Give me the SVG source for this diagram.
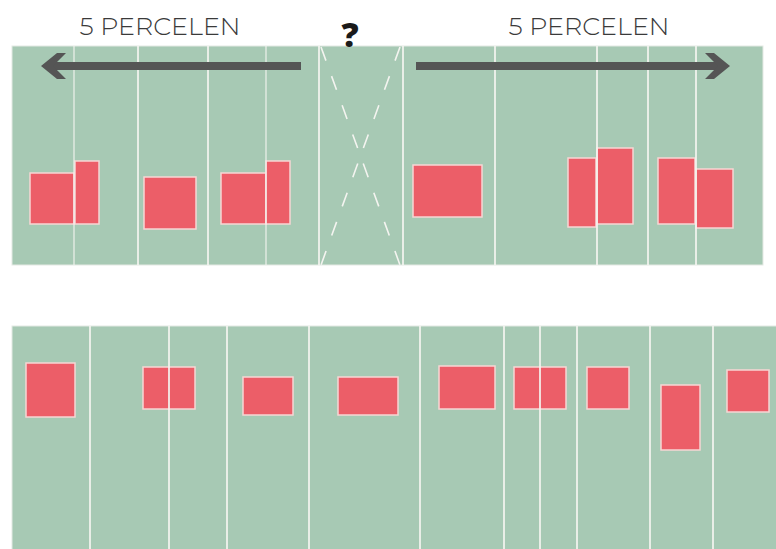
<svg xmlns="http://www.w3.org/2000/svg" width="776" height="549" viewBox="0 0 776 549">
<style>
.panel{fill:#a7c9b4;stroke:#e4e9e4;stroke-width:1}
.plot{fill:#ec5e68;stroke:#f7d6d4;stroke-width:1.5}
.div{stroke:#f4f4f0;stroke-width:2;stroke-opacity:0.85}
.thin{stroke-width:1.3}
.dash{stroke:#f4f4f0;stroke-width:1.6;stroke-dasharray:14.5 16.5;fill:none}
.arrow{fill:#555555}
.lbl{font-family:"Montserrat","Lato","Open Sans",sans-serif;font-weight:300;font-size:25px;fill:#3a3a3a;text-anchor:middle}
.q{font-family:"Open Sans","Liberation Sans",sans-serif;font-weight:800;font-size:34px;fill:#1a1a1a;text-anchor:middle}
</style>
<rect width="776" height="549" fill="#ffffff"/>
<g id="top-panel">
<rect class="panel" x="12" y="46" width="751" height="219"/>
</g>
<g id="bottom-panel">
<rect class="panel" x="12" y="326" width="770" height="230"/>
</g>
<g id="top-plots">
<rect class="plot" x="30" y="173" width="44" height="51"/>
<rect class="plot" x="75" y="161" width="24" height="63"/>
<rect class="plot" x="144" y="177" width="52" height="52"/>
<rect class="plot" x="221" y="173" width="45" height="51"/>
<rect class="plot" x="266" y="161" width="24" height="63"/>
<rect class="plot" x="413" y="165" width="69" height="52"/>
<rect class="plot" x="568" y="158" width="28" height="69"/>
<rect class="plot" x="597" y="148" width="36" height="76"/>
<rect class="plot" x="658" y="158" width="37" height="66"/>
<rect class="plot" x="696" y="169" width="37" height="59"/>
</g>
<g id="bottom-plots">
<rect class="plot" x="26" y="363" width="49" height="54"/>
<rect class="plot" x="143" y="367" width="52" height="42"/>
<rect class="plot" x="243" y="377" width="50" height="38"/>
<rect class="plot" x="338" y="377" width="60" height="38"/>
<rect class="plot" x="439" y="366" width="56" height="43"/>
<rect class="plot" x="514" y="367" width="52" height="42"/>
<rect class="plot" x="587" y="367" width="42" height="42"/>
<rect class="plot" x="661" y="385" width="39" height="65"/>
<rect class="plot" x="727" y="370" width="42" height="42"/>
</g>
<g id="top-dividers">
<line class="div thin" x1="74" y1="46" x2="74" y2="265"/>
<line class="div" x1="138" y1="46" x2="138" y2="265"/>
<line class="div" x1="208" y1="46" x2="208" y2="265"/>
<line class="div thin" x1="266" y1="46" x2="266" y2="265"/>
<line class="div" x1="319" y1="46" x2="319" y2="265"/>
<line class="div" x1="403" y1="46" x2="403" y2="265"/>
<line class="div" x1="495" y1="46" x2="495" y2="265"/>
<line class="div" x1="597" y1="46" x2="597" y2="265"/>
<line class="div" x1="648" y1="46" x2="648" y2="265"/>
<line class="div" x1="696" y1="46" x2="696" y2="265"/>
</g>
<g id="bottom-dividers">
<line class="div" x1="90" y1="326" x2="90" y2="549"/>
<line class="div" x1="169" y1="326" x2="169" y2="549"/>
<line class="div" x1="227" y1="326" x2="227" y2="549"/>
<line class="div" x1="309" y1="326" x2="309" y2="549"/>
<line class="div" x1="420" y1="326" x2="420" y2="549"/>
<line class="div" x1="504" y1="326" x2="504" y2="549"/>
<line class="div" x1="540" y1="326" x2="540" y2="549"/>
<line class="div" x1="577" y1="326" x2="577" y2="549"/>
<line class="div" x1="650" y1="326" x2="650" y2="549"/>
<line class="div" x1="713" y1="326" x2="713" y2="549"/>
</g>
<g id="unknown-plot">
<line class="dash" x1="321" y1="47" x2="400" y2="265"/>
<line class="dash" x1="400" y1="47" x2="321" y2="265"/>
</g>
<g id="connectors">
<g id="arrow-left">
<rect class="arrow" x="50" y="62" width="251" height="8"/>
<polygon class="arrow" points="41,66 57,53 66,53 53,66 66,79 57,79"/>
</g>
<g id="arrow-right">
<rect class="arrow" x="416" y="62" width="306" height="8"/>
<polygon class="arrow" points="730,66 714,53 705,53 718,66 705,79 714,79"/>
</g>
</g>
<g id="labels">
<text class="lbl" x="160" y="35" textLength="161" lengthAdjust="spacingAndGlyphs">5 PERCELEN</text>
<text class="lbl" x="589" y="35" textLength="161" lengthAdjust="spacingAndGlyphs">5 PERCELEN</text>
<text class="q" x="350" y="47">?</text>
</g>
</svg>
